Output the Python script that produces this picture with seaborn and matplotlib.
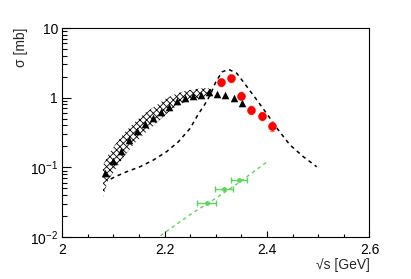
import matplotlib

matplotlib.use("Agg")
import matplotlib.pyplot as plt
import numpy as np
import seaborn as sns
from matplotlib.ticker import FixedLocator, LogLocator, MultipleLocator, NullFormatter

# black triangles (data)
tri_x = [2.084, 2.0995, 2.115, 2.131, 2.146, 2.162, 2.178, 2.193, 2.209, 2.224,
         2.240, 2.256, 2.271, 2.287, 2.302, 2.318, 2.336, 2.351]
tri_y = [0.084, 0.123, 0.172, 0.247, 0.332, 0.419, 0.511, 0.623, 0.746, 0.895,
         0.989, 1.057, 1.09, 1.19, 1.13, 1.09, 0.99, 0.847]

# hatched uncertainty band
band_x = [2.080, 2.090, 2.103, 2.123, 2.142, 2.162, 2.182, 2.201, 2.221, 2.240,
          2.260, 2.279, 2.293]
band_lo = [0.0375, 0.0658, 0.0916, 0.150, 0.224, 0.311, 0.419, 0.564, 0.735,
           0.867, 0.957, 1.02, 1.06]
band_hi = [0.108, 0.150, 0.209, 0.322, 0.448, 0.603, 0.759, 0.957, 1.13,
           1.25, 1.33, 1.38, 1.33]

# red points
red_x = [2.311, 2.330, 2.350, 2.369, 2.390, 2.410]
red_y = [1.66, 1.92, 1.07, 0.67, 0.55, 0.39]
red_err = [0.20, 0.22, 0.12, 0.08, 0.07, 0.06]

# black dashed model curve
model_x = [2.095, 2.103, 2.126, 2.152, 2.178, 2.204, 2.227, 2.250, 2.266, 2.279,
           2.289, 2.300, 2.312, 2.325, 2.341, 2.357, 2.378, 2.399, 2.422, 2.445,
           2.471, 2.497]
model_y = [0.068, 0.073, 0.0865, 0.102, 0.127, 0.168, 0.233, 0.363, 0.583, 0.811,
           1.09, 1.68, 2.34, 2.55, 2.24, 1.57, 0.973, 0.597, 0.344, 0.209,
           0.142, 0.102]

# green points and dashed green curve
green_x = [2.282, 2.316, 2.345]
green_y = [0.0305, 0.0484, 0.0652]
green_xerr = [0.018, 0.017, 0.016]
gline_x = [2.17, 2.20, 2.25, 2.30, 2.35, 2.40]
gline_y = [0.0080, 0.0115, 0.021, 0.036, 0.064, 0.12]

GREEN = "#5fd35f"

sns.set_theme(style="white")
plt.rcParams["font.family"] = ["Liberation Sans", "DejaVu Sans"]
plt.rcParams["mathtext.fontset"] = "custom"
plt.rcParams["mathtext.rm"] = "Liberation Sans"
plt.rcParams["mathtext.it"] = "Liberation Sans:italic"
plt.rcParams["hatch.linewidth"] = 0.6

fig = plt.figure(figsize=(4.11, 2.79), dpi=100)
ax = fig.add_axes([0.151, 0.1505, 0.748, 0.749])

ax.fill_between(band_x, band_lo, band_hi, facecolor="none", edgecolor="black",
                hatch="xxxxx", linewidth=0)

sns.lineplot(x=model_x, y=model_y, ax=ax, color="black", linewidth=1.1,
             linestyle=(0, (2.5, 2.5)), sort=False)
sns.lineplot(x=gline_x, y=gline_y, ax=ax, color=GREEN, linewidth=1.0,
             linestyle=(0, (2.5, 2.5)), sort=False)

sns.scatterplot(x=tri_x, y=tri_y, ax=ax, marker="^", color="black", s=30,
                linewidth=0, zorder=4)

ax.errorbar(green_x, green_y, xerr=green_xerr, fmt="o", color=GREEN, ms=2.5,
            elinewidth=1.0, capsize=2, capthick=1.0, zorder=4)
ax.errorbar(red_x, red_y, yerr=red_err, fmt="none", ecolor="#ff6060",
            elinewidth=1.0, capsize=1.5, capthick=1.0, zorder=5)
sns.scatterplot(x=red_x, y=red_y, ax=ax, marker="o", color="red", s=38,
                linewidth=0, zorder=6)

ax.set_yscale("log")
ax.set_xlim(2.0, 2.6)
ax.set_ylim(0.01, 10)

ax.xaxis.set_major_locator(MultipleLocator(0.2))
ax.xaxis.set_minor_locator(MultipleLocator(0.05))
ax.set_xticks([2.0, 2.2, 2.4, 2.6])
ax.set_xticklabels(["2", "2.2", "2.4", "2.6"])
ax.yaxis.set_major_locator(FixedLocator([0.01, 0.1, 1, 10]))
ax.set_yticklabels(["$10^{-2}$", "$10^{-1}$", "1", "10"])
ax.yaxis.set_minor_locator(LogLocator(base=10, subs=np.arange(2, 10)))
ax.yaxis.set_minor_formatter(NullFormatter())

ax.tick_params(axis="both", which="both", direction="in", colors="black",
               labelsize=10, bottom=True, left=True, top=False, right=False)
ax.tick_params(axis="x", which="major", length=4.5, width=0.8, pad=4)
ax.tick_params(axis="x", which="minor", length=2.3, width=0.8)
ax.tick_params(axis="y", which="major", length=6.6, width=0.8, pad=3)
ax.tick_params(axis="y", which="minor", length=3.3, width=0.8)

for spine in ax.spines.values():
    spine.set_color("black")
    spine.set_linewidth(0.8)

ax.set_ylabel("σ [mb]", fontsize=10, loc="top")
ax.yaxis.set_label_coords(-0.11, 1.0)
ax.set_xlabel("√s [GeV]", fontsize=10, loc="right")
ax.xaxis.set_label_coords(1.0, -0.10)

fig.savefig("out.png", dpi=100)
